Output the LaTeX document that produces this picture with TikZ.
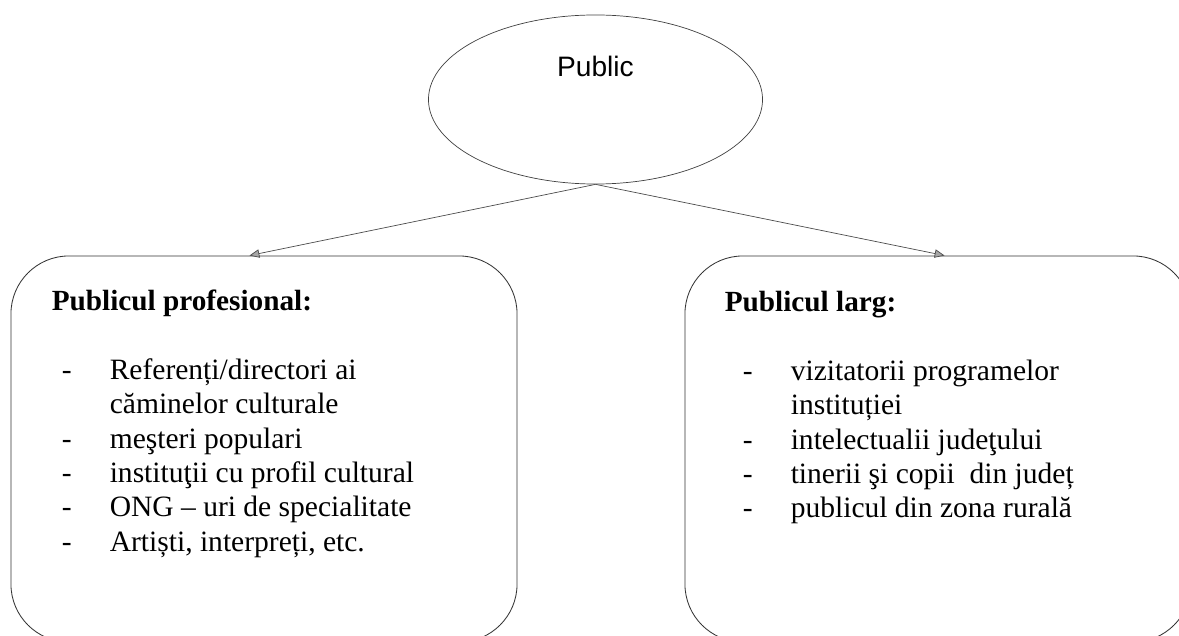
\documentclass[tikz,border=0pt]{standalone}
\usepackage{fontspec}
\setmainfont{Liberation Serif}
\setsansfont{Liberation Sans}
\usetikzlibrary{shapes.geometric,arrows.meta,calc}
\tikzset{
  pubcloud/.style={draw=black!75,line width=0.5pt,ellipse,inner sep=0pt,
    minimum width=8.35cm,minimum height=4.225cm},
  pubbox/.style={draw=black!80,line width=0.6pt,rounded corners=1.45cm,inner sep=0pt,
    minimum width=12.65cm,minimum height=9.65cm},
  boxtitle/.style={anchor=base west,inner sep=0pt,font=\fontsize{20.8}{24.5}\selectfont\bfseries},
  boxlist/.style={anchor=base west,inner sep=0pt,font=\fontsize{21}{24.4}\selectfont},
  feed/.style={draw=black!70,line width=0.5pt,
    -{Triangle[length=7pt,width=6pt,fill=black!35]}}
}
\newcommand{\dashitem}{-}
\begin{document}
\begin{tikzpicture}[x=0.025cm,y=-0.025cm]
    \useasboundingbox (0,0) rectangle (1179,636);
    \clip (0,0) rectangle (1179,636);
    % top
    \node[pubcloud] (pub) at (595.5,99.5) {};
    \node[font=\fontsize{20}{22}\selectfont\sffamily,inner sep=0pt] (publbl) at ($(pub.center)+(0,-33)$) {Public};
    % the two boxes
    \node[pubbox] (prof) at (264,449) {};
    \node[pubbox] (larg) at (938,449) {};
    \node[boxtitle] (proftitle) at ($(prof.north west)+(41,55)$) {Publicul profesional:};
    \node[boxlist] (proflist) at ($(prof.north west)+(51,124)$) {%
      \begin{tabular}[t]{@{}p{1.2cm}@{}l@{}}
      \dashitem & Referenți/directori ai\\
                & căminelor culturale\\
      \dashitem & meşteri populari\\
      \dashitem & instituţii cu profil cultural\\
      \dashitem & ONG – uri de specialitate\\
      \dashitem & Artiști, interpreți, etc.
      \end{tabular}};
    \node[boxtitle] (largtitle) at ($(larg.north west)+(40,56)$) {Publicul larg:};
    \node[boxlist] (larglist) at ($(larg.north west)+(58,125)$) {%
      \begin{tabular}[t]{@{}p{1.2cm}@{}l@{}}
      \dashitem & vizitatorii programelor\\
                & instituției\\
      \dashitem & intelectualii judeţului\\
      \dashitem & tinerii şi copii\ \ din județ\\
      \dashitem & publicul din zona rurală
      \end{tabular}};
    % arrows
    \coordinate (proftip) at ($(prof.north west)+(239,0)$);
    \coordinate (largtip) at ($(larg.north west)+(260,0)$);
    \draw[feed] (pub.south) -- (proftip);
    \draw[feed] (pub.south) -- (largtip);
\end{tikzpicture}
\end{document}
